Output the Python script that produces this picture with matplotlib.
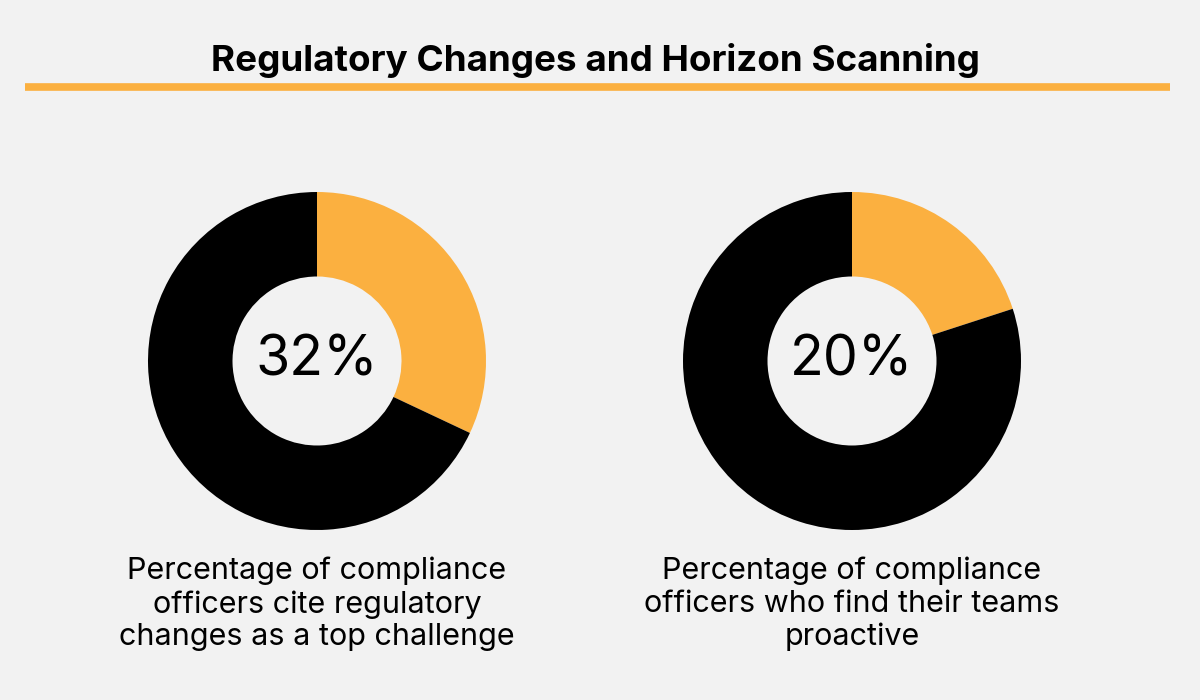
import matplotlib.pyplot as plt

# data
values = [32, 20]
labels = ["32%", "20%"]
captions = [
    "Percentage of compliance\nofficers cite regulatory\nchanges as a top challenge",
    "Percentage of compliance\nofficers who find their teams\nproactive",
]
title = "Regulatory Changes and Horizon Scanning"

orange = "#FBB040"
bg = "#F2F2F2"
W, H = 1200, 700

plt.rcParams['font.family'] = ['Inter', 'DejaVu Sans']
fig = plt.figure(figsize=(12, 7), dpi=100, facecolor=bg)

# title and underline
fig.text(595 / W, 1 - 61 / H, title, ha='center', va='center',
         fontsize=26.5, fontweight='bold', color='black')
line_ax = fig.add_axes([0, 0, 1, 1], facecolor='none')
line_ax.set_xlim(0, W)
line_ax.set_ylim(H, 0)
line_ax.axis('off')
line_ax.plot([25, 1170], [86.5, 86.5], color=orange, lw=5.5, solid_capstyle='butt')

centers = [317, 852]
r = 169
for cx, val, lab, cap in zip(centers, values, labels, captions):
    ax = fig.add_axes([(cx - r) / W, 1 - (361 + r) / H, 2 * r / W, 2 * r / H])
    ax.pie([val, 100 - val], colors=[orange, 'black'], startangle=90,
           counterclock=False, radius=1,
           wedgeprops=dict(width=0.5, linewidth=0))
    ax.set_aspect('equal')
    ax.set_xlim(-1, 1)
    ax.set_ylim(-1, 1)
    ax.text(0, 0, lab, ha='center', va='center', fontsize=40, color='black')
    fig.text(cx / W, 1 - 604 / H, cap, ha='center', va='center',
             fontsize=22, linespacing=1.22, color='black')

fig.savefig('out.png', dpi=100, facecolor=bg)
